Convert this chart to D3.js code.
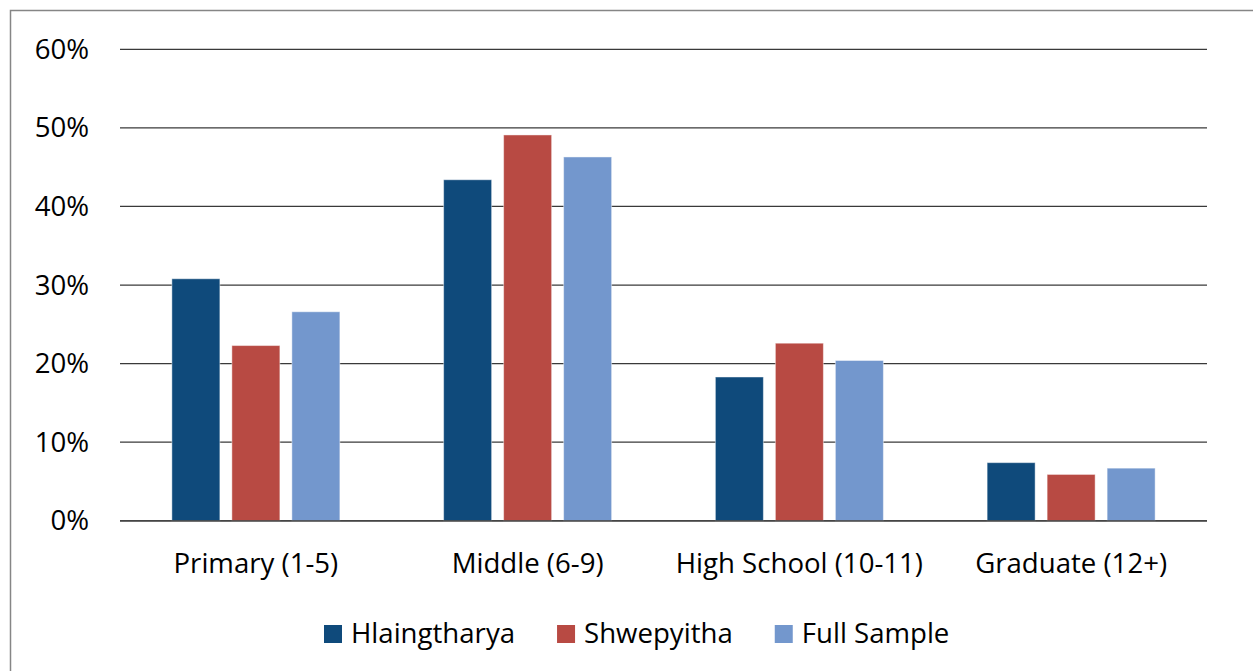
<!DOCTYPE html>
<html>
<head>
<meta charset="utf-8">
<script src="https://cdn.jsdelivr.net/npm/d3@7"></script>
<style>
  html, body { margin: 0; padding: 0; background: #fff; }
  svg { display: block; font-family: "Open Sans", sans-serif; }
</style>
</head>
<body>
<svg id="chart" width="1253" height="671"></svg>
<script>
const categories = ["Primary (1-5)", "Middle (6-9)", "High School (10-11)", "Graduate (12+)"];
const seriesNames = ["Hlaingtharya", "Shwepyitha", "Full Sample"];
const hlaingtharya = [30.8, 43.4, 18.3, 7.4];
const shwepyitha = [22.3, 49.1, 22.6, 5.9];
const fullSample = [26.6, 46.3, 20.4, 6.7];
const yTicks = [0, 10, 20, 30, 40, 50, 60];
const colors = ["#0F4A7B", "#B84A43", "#7397CD"];

const seriesValues = [hlaingtharya, shwepyitha, fullSample];

const svg = d3.select("#chart");
const fontSize = 27.6;

// border
svg.append("rect")
  .attr("x", 10.5).attr("y", 10.5)
  .attr("width", 1260).attr("height", 680)
  .attr("fill", "none").attr("stroke", "#868686").attr("stroke-width", 1.5);

const plotLeft = 120, plotRight = 1207;
const y = d3.scaleLinear().domain([0, 60]).range([520.8, 49.3]);
const x0 = d3.scaleBand().domain(categories).range([plotLeft, plotRight]).padding(0);
const bw = x0.bandwidth();
const groupW = 168;
const x1 = d3.scaleBand().domain(seriesNames)
  .range([(bw - groupW) / 2, (bw + groupW) / 2])
  .paddingInner(0.2).paddingOuter(0);

// gridlines
svg.append("g").selectAll("line").data(yTicks).join("line")
  .attr("x1", plotLeft).attr("x2", plotRight)
  .attr("y1", d => y(d)).attr("y2", d => y(d))
  .attr("stroke", "#3a3a3a").attr("stroke-width", 1.2);

// y labels
svg.append("g").selectAll("text").data(yTicks).join("text")
  .attr("x", 89).attr("y", d => y(d) + 9.6)
  .attr("text-anchor", "end")
  .attr("font-size", fontSize).attr("fill", "#000")
  .text(d => d + "%");

// bars
const groups = svg.append("g").selectAll("g").data(categories).join("g")
  .attr("transform", c => `translate(${x0(c)},0)`);
groups.selectAll("rect")
  .data((c, ci) => seriesNames.map((s, si) => ({ s, si, v: seriesValues[si][ci] })))
  .join("rect")
  .attr("x", d => x1(d.s))
  .attr("width", x1.bandwidth())
  .attr("y", d => y(d.v))
  .attr("height", d => y(0) - y(d.v))
  .attr("fill", d => colors[d.si])
  .attr("stroke", "#ffffff").attr("stroke-opacity", 0.45).attr("stroke-width", 1);

// redraw baseline over bars
svg.append("line")
  .attr("x1", plotLeft).attr("x2", plotRight)
  .attr("y1", y(0)).attr("y2", y(0))
  .attr("stroke", "#3a3a3a").attr("stroke-width", 1.2);

// x labels
svg.append("g").selectAll("text").data(categories).join("text")
  .attr("x", c => x0(c) + bw / 2).attr("y", 573.3)
  .attr("text-anchor", "middle")
  .attr("font-size", fontSize).attr("fill", "#000")
  .text(c => c);

// legend
const legend = svg.append("g");
let lx = 324;
seriesNames.forEach((s, i) => {
  legend.append("rect")
    .attr("x", lx).attr("y", 625).attr("width", 18).attr("height", 18)
    .attr("fill", colors[i]);
  const t = legend.append("text")
    .attr("x", lx + 27).attr("y", 643.3)
    .attr("font-size", fontSize).attr("fill", "#000")
    .text(s);
  lx += 27 + t.node().getComputedTextLength() + 42;
});
</script>
</body>
</html>
